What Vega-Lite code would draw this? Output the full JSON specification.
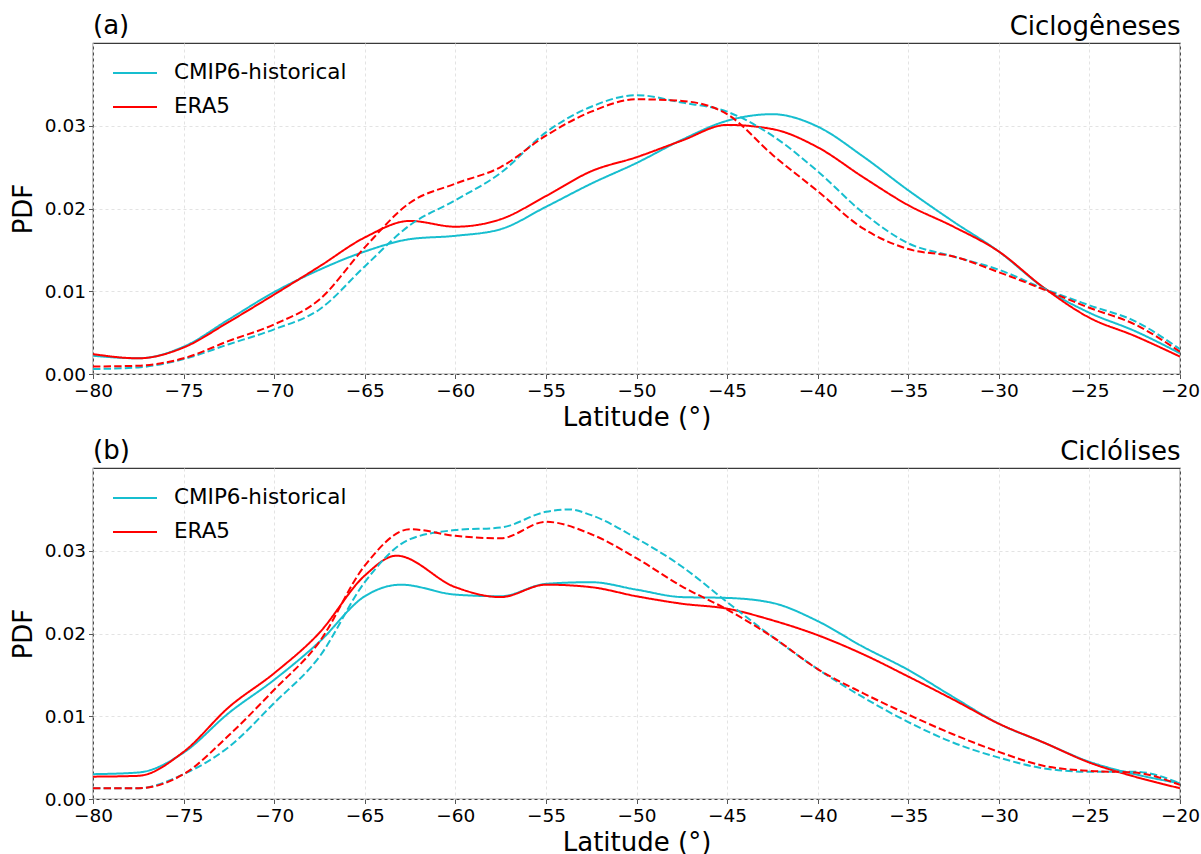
{
"$schema": "https://vega.github.io/schema/vega-lite/v6.json",
"padding": {"left": 9, "top": 12, "right": 5, "bottom": 0},
"background": "white",
"config": {
  "font": "DejaVu Sans",
  "view": {"stroke": "#3a3a3a", "strokeWidth": 1.2},
  "axis": {"labelFont": "DejaVu Sans", "labelFontSize": 18.5, "labelColor": "black", "titleFont": "DejaVu Sans", "titleFontSize": 26, "titleFontWeight": "normal", "titleColor": "black", "tickColor": "#555555", "tickSize": 4.5, "domain": false, "gridColor": "#e3e3e3", "gridDash": [3, 3], "labelPadding": 3, "labelFlush": false},
  "legend": {"labelFont": "DejaVu Sans", "labelFontSize": 21.5, "labelColor": "black", "labelLimit": 0},
  "title": {"font": "DejaVu Sans", "fontSize": 26, "fontWeight": "normal", "color": "black"}
},
"data": {"values": [
{"p":"a","s":"CMIP6-historical","k":"solid","lat":-80,"v":0.0022},{"p":"a","s":"CMIP6-historical","k":"solid","lat":-77.5,"v":0.0019},{"p":"a","s":"CMIP6-historical","k":"solid","lat":-75,"v":0.0033},{"p":"a","s":"CMIP6-historical","k":"solid","lat":-72.5,"v":0.0066},{"p":"a","s":"CMIP6-historical","k":"solid","lat":-70,"v":0.0099},{"p":"a","s":"CMIP6-historical","k":"solid","lat":-67.5,"v":0.0126},{"p":"a","s":"CMIP6-historical","k":"solid","lat":-65,"v":0.0148},{"p":"a","s":"CMIP6-historical","k":"solid","lat":-62.5,"v":0.0163},{"p":"a","s":"CMIP6-historical","k":"solid","lat":-60,"v":0.0167},{"p":"a","s":"CMIP6-historical","k":"solid","lat":-57.5,"v":0.0175},{"p":"a","s":"CMIP6-historical","k":"solid","lat":-55,"v":0.0202},{"p":"a","s":"CMIP6-historical","k":"solid","lat":-52.5,"v":0.0230},{"p":"a","s":"CMIP6-historical","k":"solid","lat":-50,"v":0.0255},{"p":"a","s":"CMIP6-historical","k":"solid","lat":-47.5,"v":0.0283},{"p":"a","s":"CMIP6-historical","k":"solid","lat":-45,"v":0.0306},{"p":"a","s":"CMIP6-historical","k":"solid","lat":-42.5,"v":0.0314},{"p":"a","s":"CMIP6-historical","k":"solid","lat":-40,"v":0.0299},{"p":"a","s":"CMIP6-historical","k":"solid","lat":-37.5,"v":0.0263},{"p":"a","s":"CMIP6-historical","k":"solid","lat":-35,"v":0.0222},{"p":"a","s":"CMIP6-historical","k":"solid","lat":-32.5,"v":0.0184},{"p":"a","s":"CMIP6-historical","k":"solid","lat":-30,"v":0.0148},{"p":"a","s":"CMIP6-historical","k":"solid","lat":-27.5,"v":0.0104},{"p":"a","s":"CMIP6-historical","k":"solid","lat":-25,"v":0.0074},{"p":"a","s":"CMIP6-historical","k":"solid","lat":-22.5,"v":0.0052},{"p":"a","s":"CMIP6-historical","k":"solid","lat":-20,"v":0.0025},
{"p":"a","s":"ERA5","k":"solid","lat":-80,"v":0.0024},{"p":"a","s":"ERA5","k":"solid","lat":-77.5,"v":0.0019},{"p":"a","s":"ERA5","k":"solid","lat":-75,"v":0.0032},{"p":"a","s":"ERA5","k":"solid","lat":-72.5,"v":0.0063},{"p":"a","s":"ERA5","k":"solid","lat":-70,"v":0.0096},{"p":"a","s":"ERA5","k":"solid","lat":-67.5,"v":0.0130},{"p":"a","s":"ERA5","k":"solid","lat":-65,"v":0.0165},{"p":"a","s":"ERA5","k":"solid","lat":-62.5,"v":0.0185},{"p":"a","s":"ERA5","k":"solid","lat":-60,"v":0.0178},{"p":"a","s":"ERA5","k":"solid","lat":-57.5,"v":0.0187},{"p":"a","s":"ERA5","k":"solid","lat":-55,"v":0.0215},{"p":"a","s":"ERA5","k":"solid","lat":-52.5,"v":0.0245},{"p":"a","s":"ERA5","k":"solid","lat":-50,"v":0.0262},{"p":"a","s":"ERA5","k":"solid","lat":-47.5,"v":0.0282},{"p":"a","s":"ERA5","k":"solid","lat":-45,"v":0.0301},{"p":"a","s":"ERA5","k":"solid","lat":-42.5,"v":0.0296},{"p":"a","s":"ERA5","k":"solid","lat":-40,"v":0.0274},{"p":"a","s":"ERA5","k":"solid","lat":-37.5,"v":0.0238},{"p":"a","s":"ERA5","k":"solid","lat":-35,"v":0.0204},{"p":"a","s":"ERA5","k":"solid","lat":-32.5,"v":0.0178},{"p":"a","s":"ERA5","k":"solid","lat":-30,"v":0.0148},{"p":"a","s":"ERA5","k":"solid","lat":-27.5,"v":0.0104},{"p":"a","s":"ERA5","k":"solid","lat":-25,"v":0.0068},{"p":"a","s":"ERA5","k":"solid","lat":-22.5,"v":0.0046},{"p":"a","s":"ERA5","k":"solid","lat":-20,"v":0.0021},
{"p":"a","s":"CMIP6-historical","k":"dashed","lat":-80,"v":0.0006},{"p":"a","s":"CMIP6-historical","k":"dashed","lat":-77.5,"v":0.0008},{"p":"a","s":"CMIP6-historical","k":"dashed","lat":-75,"v":0.0018},{"p":"a","s":"CMIP6-historical","k":"dashed","lat":-72.5,"v":0.0036},{"p":"a","s":"CMIP6-historical","k":"dashed","lat":-70,"v":0.0054},{"p":"a","s":"CMIP6-historical","k":"dashed","lat":-67.5,"v":0.0078},{"p":"a","s":"CMIP6-historical","k":"dashed","lat":-65,"v":0.0130},{"p":"a","s":"CMIP6-historical","k":"dashed","lat":-62.5,"v":0.0180},{"p":"a","s":"CMIP6-historical","k":"dashed","lat":-60,"v":0.0210},{"p":"a","s":"CMIP6-historical","k":"dashed","lat":-57.5,"v":0.0243},{"p":"a","s":"CMIP6-historical","k":"dashed","lat":-55,"v":0.0292},{"p":"a","s":"CMIP6-historical","k":"dashed","lat":-52.5,"v":0.0323},{"p":"a","s":"CMIP6-historical","k":"dashed","lat":-50,"v":0.0337},{"p":"a","s":"CMIP6-historical","k":"dashed","lat":-47.5,"v":0.0328},{"p":"a","s":"CMIP6-historical","k":"dashed","lat":-45,"v":0.0317},{"p":"a","s":"CMIP6-historical","k":"dashed","lat":-42.5,"v":0.0288},{"p":"a","s":"CMIP6-historical","k":"dashed","lat":-40,"v":0.0245},{"p":"a","s":"CMIP6-historical","k":"dashed","lat":-37.5,"v":0.0195},{"p":"a","s":"CMIP6-historical","k":"dashed","lat":-35,"v":0.0158},{"p":"a","s":"CMIP6-historical","k":"dashed","lat":-32.5,"v":0.0142},{"p":"a","s":"CMIP6-historical","k":"dashed","lat":-30,"v":0.0126},{"p":"a","s":"CMIP6-historical","k":"dashed","lat":-27.5,"v":0.0103},{"p":"a","s":"CMIP6-historical","k":"dashed","lat":-25,"v":0.0083},{"p":"a","s":"CMIP6-historical","k":"dashed","lat":-22.5,"v":0.0064},{"p":"a","s":"CMIP6-historical","k":"dashed","lat":-20,"v":0.0030},
{"p":"a","s":"ERA5","k":"dashed","lat":-80,"v":0.0009},{"p":"a","s":"ERA5","k":"dashed","lat":-77.5,"v":0.0010},{"p":"a","s":"ERA5","k":"dashed","lat":-75,"v":0.0019},{"p":"a","s":"ERA5","k":"dashed","lat":-72.5,"v":0.0040},{"p":"a","s":"ERA5","k":"dashed","lat":-70,"v":0.0060},{"p":"a","s":"ERA5","k":"dashed","lat":-67.5,"v":0.0090},{"p":"a","s":"ERA5","k":"dashed","lat":-65,"v":0.0153},{"p":"a","s":"ERA5","k":"dashed","lat":-62.5,"v":0.0207},{"p":"a","s":"ERA5","k":"dashed","lat":-60,"v":0.0230},{"p":"a","s":"ERA5","k":"dashed","lat":-57.5,"v":0.0250},{"p":"a","s":"ERA5","k":"dashed","lat":-55,"v":0.0288},{"p":"a","s":"ERA5","k":"dashed","lat":-52.5,"v":0.0317},{"p":"a","s":"ERA5","k":"dashed","lat":-50,"v":0.0332},{"p":"a","s":"ERA5","k":"dashed","lat":-47.5,"v":0.0330},{"p":"a","s":"ERA5","k":"dashed","lat":-45,"v":0.0314},{"p":"a","s":"ERA5","k":"dashed","lat":-42.5,"v":0.0265},{"p":"a","s":"ERA5","k":"dashed","lat":-40,"v":0.0221},{"p":"a","s":"ERA5","k":"dashed","lat":-37.5,"v":0.0176},{"p":"a","s":"ERA5","k":"dashed","lat":-35,"v":0.0151},{"p":"a","s":"ERA5","k":"dashed","lat":-32.5,"v":0.0142},{"p":"a","s":"ERA5","k":"dashed","lat":-30,"v":0.0123},{"p":"a","s":"ERA5","k":"dashed","lat":-27.5,"v":0.0102},{"p":"a","s":"ERA5","k":"dashed","lat":-25,"v":0.0080},{"p":"a","s":"ERA5","k":"dashed","lat":-22.5,"v":0.0060},{"p":"a","s":"ERA5","k":"dashed","lat":-20,"v":0.0027},
{"p":"b","s":"CMIP6-historical","k":"solid","lat":-80,"v":0.0030},{"p":"b","s":"CMIP6-historical","k":"solid","lat":-77.5,"v":0.0032},{"p":"b","s":"CMIP6-historical","k":"solid","lat":-75,"v":0.0056},{"p":"b","s":"CMIP6-historical","k":"solid","lat":-72.5,"v":0.0104},{"p":"b","s":"CMIP6-historical","k":"solid","lat":-70,"v":0.0144},{"p":"b","s":"CMIP6-historical","k":"solid","lat":-67.5,"v":0.0190},{"p":"b","s":"CMIP6-historical","k":"solid","lat":-65,"v":0.0245},{"p":"b","s":"CMIP6-historical","k":"solid","lat":-63,"v":0.0259},{"p":"b","s":"CMIP6-historical","k":"solid","lat":-60,"v":0.0247},{"p":"b","s":"CMIP6-historical","k":"solid","lat":-57.5,"v":0.0245},{"p":"b","s":"CMIP6-historical","k":"solid","lat":-55,"v":0.0260},{"p":"b","s":"CMIP6-historical","k":"solid","lat":-52.5,"v":0.0262},{"p":"b","s":"CMIP6-historical","k":"solid","lat":-50,"v":0.0253},{"p":"b","s":"CMIP6-historical","k":"solid","lat":-47.5,"v":0.0244},{"p":"b","s":"CMIP6-historical","k":"solid","lat":-45,"v":0.0243},{"p":"b","s":"CMIP6-historical","k":"solid","lat":-42.5,"v":0.0237},{"p":"b","s":"CMIP6-historical","k":"solid","lat":-40,"v":0.0215},{"p":"b","s":"CMIP6-historical","k":"solid","lat":-37.5,"v":0.0184},{"p":"b","s":"CMIP6-historical","k":"solid","lat":-35,"v":0.0156},{"p":"b","s":"CMIP6-historical","k":"solid","lat":-32.5,"v":0.0123},{"p":"b","s":"CMIP6-historical","k":"solid","lat":-30,"v":0.0091},{"p":"b","s":"CMIP6-historical","k":"solid","lat":-27.5,"v":0.0068},{"p":"b","s":"CMIP6-historical","k":"solid","lat":-25,"v":0.0045},{"p":"b","s":"CMIP6-historical","k":"solid","lat":-22.5,"v":0.0030},{"p":"b","s":"CMIP6-historical","k":"solid","lat":-20,"v":0.0019},
{"p":"b","s":"ERA5","k":"solid","lat":-80,"v":0.0027},{"p":"b","s":"ERA5","k":"solid","lat":-77.5,"v":0.0028},{"p":"b","s":"ERA5","k":"solid","lat":-75,"v":0.0057},{"p":"b","s":"ERA5","k":"solid","lat":-72.5,"v":0.0111},{"p":"b","s":"ERA5","k":"solid","lat":-70,"v":0.0152},{"p":"b","s":"ERA5","k":"solid","lat":-67.5,"v":0.0201},{"p":"b","s":"ERA5","k":"solid","lat":-65,"v":0.0270},{"p":"b","s":"ERA5","k":"solid","lat":-63.25,"v":0.0294},{"p":"b","s":"ERA5","k":"solid","lat":-60,"v":0.0256},{"p":"b","s":"ERA5","k":"solid","lat":-57.5,"v":0.0244},{"p":"b","s":"ERA5","k":"solid","lat":-55,"v":0.0259},{"p":"b","s":"ERA5","k":"solid","lat":-52.5,"v":0.0256},{"p":"b","s":"ERA5","k":"solid","lat":-50,"v":0.0245},{"p":"b","s":"ERA5","k":"solid","lat":-47.5,"v":0.0236},{"p":"b","s":"ERA5","k":"solid","lat":-45,"v":0.0230},{"p":"b","s":"ERA5","k":"solid","lat":-42.5,"v":0.0216},{"p":"b","s":"ERA5","k":"solid","lat":-40,"v":0.0198},{"p":"b","s":"ERA5","k":"solid","lat":-37.5,"v":0.0175},{"p":"b","s":"ERA5","k":"solid","lat":-35,"v":0.0148},{"p":"b","s":"ERA5","k":"solid","lat":-32.5,"v":0.0120},{"p":"b","s":"ERA5","k":"solid","lat":-30,"v":0.0091},{"p":"b","s":"ERA5","k":"solid","lat":-27.5,"v":0.0068},{"p":"b","s":"ERA5","k":"solid","lat":-25,"v":0.0044},{"p":"b","s":"ERA5","k":"solid","lat":-22.5,"v":0.0027},{"p":"b","s":"ERA5","k":"solid","lat":-20,"v":0.0013},
{"p":"b","s":"CMIP6-historical","k":"dashed","lat":-80,"v":0.0013},{"p":"b","s":"CMIP6-historical","k":"dashed","lat":-77.5,"v":0.0013},{"p":"b","s":"CMIP6-historical","k":"dashed","lat":-75,"v":0.0030},{"p":"b","s":"CMIP6-historical","k":"dashed","lat":-72.5,"v":0.0063},{"p":"b","s":"CMIP6-historical","k":"dashed","lat":-70,"v":0.0116},{"p":"b","s":"CMIP6-historical","k":"dashed","lat":-67.5,"v":0.0172},{"p":"b","s":"CMIP6-historical","k":"dashed","lat":-65,"v":0.0262},{"p":"b","s":"CMIP6-historical","k":"dashed","lat":-62.5,"v":0.0314},{"p":"b","s":"CMIP6-historical","k":"dashed","lat":-60,"v":0.0325},{"p":"b","s":"CMIP6-historical","k":"dashed","lat":-57.5,"v":0.0328},{"p":"b","s":"CMIP6-historical","k":"dashed","lat":-55,"v":0.0347},{"p":"b","s":"CMIP6-historical","k":"dashed","lat":-53.75,"v":0.0350},{"p":"b","s":"CMIP6-historical","k":"dashed","lat":-52.5,"v":0.0343},{"p":"b","s":"CMIP6-historical","k":"dashed","lat":-50,"v":0.0315},{"p":"b","s":"CMIP6-historical","k":"dashed","lat":-47.5,"v":0.0281},{"p":"b","s":"CMIP6-historical","k":"dashed","lat":-45,"v":0.0238},{"p":"b","s":"CMIP6-historical","k":"dashed","lat":-42.5,"v":0.0196},{"p":"b","s":"CMIP6-historical","k":"dashed","lat":-40,"v":0.0157},{"p":"b","s":"CMIP6-historical","k":"dashed","lat":-37.5,"v":0.0123},{"p":"b","s":"CMIP6-historical","k":"dashed","lat":-35,"v":0.0093},{"p":"b","s":"CMIP6-historical","k":"dashed","lat":-32.5,"v":0.0068},{"p":"b","s":"CMIP6-historical","k":"dashed","lat":-30,"v":0.0050},{"p":"b","s":"CMIP6-historical","k":"dashed","lat":-27.5,"v":0.0037},{"p":"b","s":"CMIP6-historical","k":"dashed","lat":-25,"v":0.0033},{"p":"b","s":"CMIP6-historical","k":"dashed","lat":-22.5,"v":0.0033},{"p":"b","s":"CMIP6-historical","k":"dashed","lat":-20,"v":0.0019},
{"p":"b","s":"ERA5","k":"dashed","lat":-80,"v":0.0013},{"p":"b","s":"ERA5","k":"dashed","lat":-77.5,"v":0.0013},{"p":"b","s":"ERA5","k":"dashed","lat":-75,"v":0.0030},{"p":"b","s":"ERA5","k":"dashed","lat":-72.5,"v":0.0077},{"p":"b","s":"ERA5","k":"dashed","lat":-70,"v":0.0132},{"p":"b","s":"ERA5","k":"dashed","lat":-67.5,"v":0.0190},{"p":"b","s":"ERA5","k":"dashed","lat":-65,"v":0.0282},{"p":"b","s":"ERA5","k":"dashed","lat":-62.5,"v":0.0326},{"p":"b","s":"ERA5","k":"dashed","lat":-60,"v":0.0318},{"p":"b","s":"ERA5","k":"dashed","lat":-57.5,"v":0.0315},{"p":"b","s":"ERA5","k":"dashed","lat":-55,"v":0.0335},{"p":"b","s":"ERA5","k":"dashed","lat":-52.5,"v":0.0320},{"p":"b","s":"ERA5","k":"dashed","lat":-50,"v":0.0291},{"p":"b","s":"ERA5","k":"dashed","lat":-47.5,"v":0.0257},{"p":"b","s":"ERA5","k":"dashed","lat":-45,"v":0.0229},{"p":"b","s":"ERA5","k":"dashed","lat":-42.5,"v":0.0196},{"p":"b","s":"ERA5","k":"dashed","lat":-40,"v":0.0157},{"p":"b","s":"ERA5","k":"dashed","lat":-37.5,"v":0.0128},{"p":"b","s":"ERA5","k":"dashed","lat":-35,"v":0.0102},{"p":"b","s":"ERA5","k":"dashed","lat":-32.5,"v":0.0078},{"p":"b","s":"ERA5","k":"dashed","lat":-30,"v":0.0057},{"p":"b","s":"ERA5","k":"dashed","lat":-27.5,"v":0.0040},{"p":"b","s":"ERA5","k":"dashed","lat":-25,"v":0.0034},{"p":"b","s":"ERA5","k":"dashed","lat":-22.5,"v":0.0032},{"p":"b","s":"ERA5","k":"dashed","lat":-20,"v":0.0017}
]},
"resolve": {"legend": {"color": "independent", "strokeDash": "independent"}},
"spacing": 6,
"vconcat": [
{
  "title": {"text": "(a)", "anchor": "start", "frame": "group", "offset": -26},
  "width": 1087, "height": 331,
  "transform": [{"filter": "datum.p == 'a'"}],
  "layer": [
    {"mark": {"type": "line", "strokeWidth": 2, "interpolate": "monotone", "clip": true},
     "encoding": {
       "x": {"field": "lat", "type": "quantitative", "scale": {"domain": [-80, -20], "nice": false, "zero": false}, "axis": {"title": "Latitude (°)", "values": [-80,-75,-70,-65,-60,-55,-50,-45,-40,-35,-30,-25,-20], "titlePadding": 4}},
       "y": {"field": "v", "type": "quantitative", "scale": {"domain": [0, 0.04], "nice": false}, "axis": {"title": "PDF", "values": [0, 0.01, 0.02, 0.03], "format": ".2f", "titlePadding": 8}},
       "color": {"field": "s", "type": "nominal", "scale": {"domain": ["CMIP6-historical", "ERA5"], "range": ["#17becf", "#ff0000"]}, "legend": {"title": null, "orient": "none", "legendX": 30, "legendY": 18, "symbolType": "M-2,0H2", "symbolSize": 484, "symbolStrokeWidth": 2, "labelOffset": 27, "rowPadding": 11}},
       "strokeDash": {"field": "k", "type": "nominal", "scale": {"domain": ["solid", "dashed"], "range": [[1, 0], [7.4, 3.2]]}, "legend": null}
     }},
    {"mark": {"type": "point", "opacity": 0},
     "encoding": {"x": {"field": "lat", "type": "quantitative", "axis": {"orient": "top", "title": "Ciclogêneses", "titleAnchor": "end", "labels": false, "ticks": false, "grid": false, "domain": false, "titlePadding": 4}}}}
  ],
  "resolve": {"axis": {"x": "independent"}}
},
{
  "title": {"text": "(b)", "anchor": "start", "frame": "group", "offset": -26},
  "width": 1087, "height": 331,
  "transform": [{"filter": "datum.p == 'b'"}],
  "layer": [
    {"mark": {"type": "line", "strokeWidth": 2, "interpolate": "monotone", "clip": true},
     "encoding": {
       "x": {"field": "lat", "type": "quantitative", "scale": {"domain": [-80, -20], "nice": false, "zero": false}, "axis": {"title": "Latitude (°)", "values": [-80,-75,-70,-65,-60,-55,-50,-45,-40,-35,-30,-25,-20], "titlePadding": 4}},
       "y": {"field": "v", "type": "quantitative", "scale": {"domain": [0, 0.04], "nice": false}, "axis": {"title": "PDF", "values": [0, 0.01, 0.02, 0.03], "format": ".2f", "titlePadding": 8}},
       "color": {"field": "s", "type": "nominal", "scale": {"domain": ["CMIP6-historical", "ERA5"], "range": ["#17becf", "#ff0000"]}, "legend": {"title": null, "orient": "none", "legendX": 30, "legendY": 18, "symbolType": "M-2,0H2", "symbolSize": 484, "symbolStrokeWidth": 2, "labelOffset": 27, "rowPadding": 11}},
       "strokeDash": {"field": "k", "type": "nominal", "scale": {"domain": ["solid", "dashed"], "range": [[1, 0], [7.4, 3.2]]}, "legend": null}
     }},
    {"mark": {"type": "point", "opacity": 0},
     "encoding": {"x": {"field": "lat", "type": "quantitative", "axis": {"orient": "top", "title": "Ciclólises", "titleAnchor": "end", "labels": false, "ticks": false, "grid": false, "domain": false, "titlePadding": 4}}}}
  ],
  "resolve": {"axis": {"x": "independent"}}
}
]
}
